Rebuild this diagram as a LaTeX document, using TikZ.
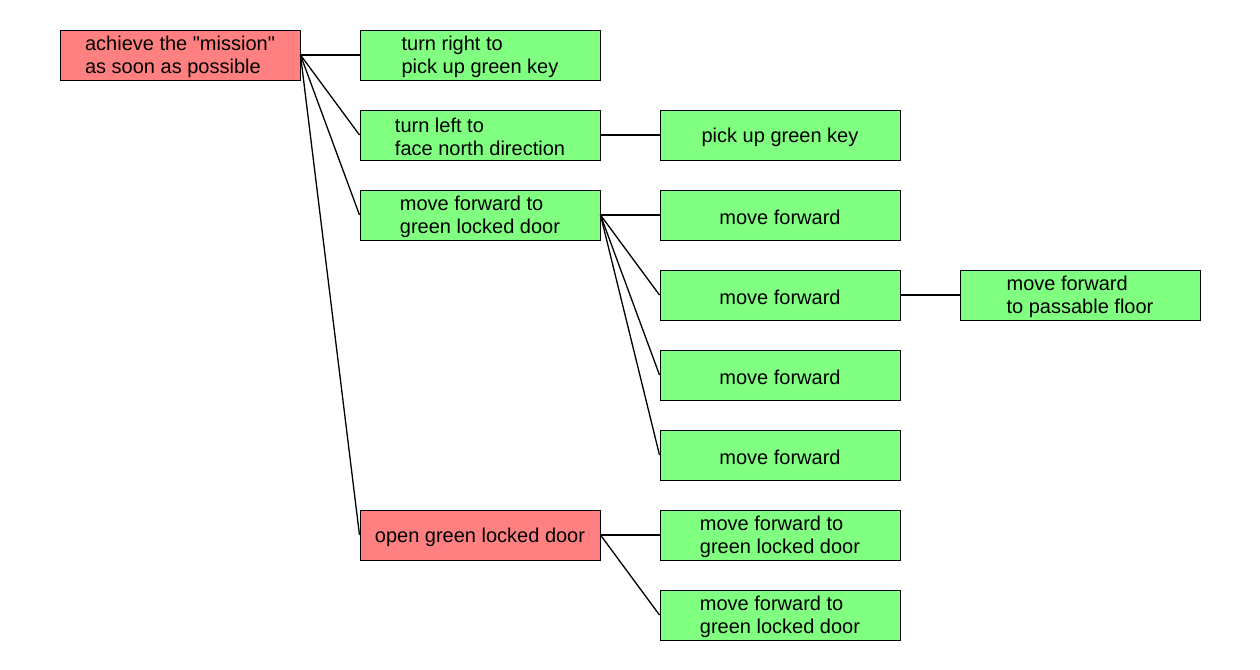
\documentclass[tikz,border=0pt]{standalone}
\usepackage{fontspec}
\setmainfont[Ligatures=TeXOff]{Liberation Sans}
\definecolor{boxred}{HTML}{FF8080}
\definecolor{boxgreen}{HTML}{80FF80}
\newcommand{\dq}{\symbol{34}}
\begin{document}
\begin{tikzpicture}[x=0.5pt,y=-0.5pt,
  boxtext/.style={align=left,inner sep=0pt,yshift=-1pt,font=\fontsize{10pt}{11.5pt}\selectfont},
  box/.style={draw=black,line width=0.5pt,minimum width=120pt,minimum height=25pt,inner sep=0pt,
    label={[boxtext]center:#1}},
  redbox/.style={box={#1},fill=boxred},
  greenbox/.style={box={#1},fill=boxgreen},
  link/.style={draw=black,line width=0.65pt}]
\useasboundingbox (0,0) rectangle (1260,670);
\node[redbox={achieve the \dq mission\dq\\as soon as possible}] (root) at (180,55) {};
\node[greenbox={turn right to\\pick up green key}] (a1) at (480,55) {};
\node[greenbox={turn left to\\face north direction}] (a2) at (480,135) {};
\node[greenbox={move forward to\\green locked door}] (a3) at (480,215) {};
\node[redbox={open green locked door}] (a4) at (480,535) {};
\node[greenbox={pick up green key}] (b1) at (780,135) {};
\node[greenbox={move forward}] (b2) at (780,215) {};
\node[greenbox={move forward}] (b3) at (780,295) {};
\node[greenbox={move forward}] (b4) at (780,375) {};
\node[greenbox={move forward}] (b5) at (780,455) {};
\node[greenbox={move forward to\\green locked door}] (b6) at (780,535) {};
\node[greenbox={move forward to\\green locked door}] (b7) at (780,615) {};
\node[greenbox={move forward\\to passable floor}] (c1) at (1080,295) {};
\foreach \s/\t in {root/a1,root/a2,root/a3,root/a4,a2/b1,a3/b2,a3/b3,a3/b4,a3/b5,a4/b6,a4/b7,b3/c1}
  \draw[link] (\s.east) -- (\t.west);
\end{tikzpicture}
\end{document}
